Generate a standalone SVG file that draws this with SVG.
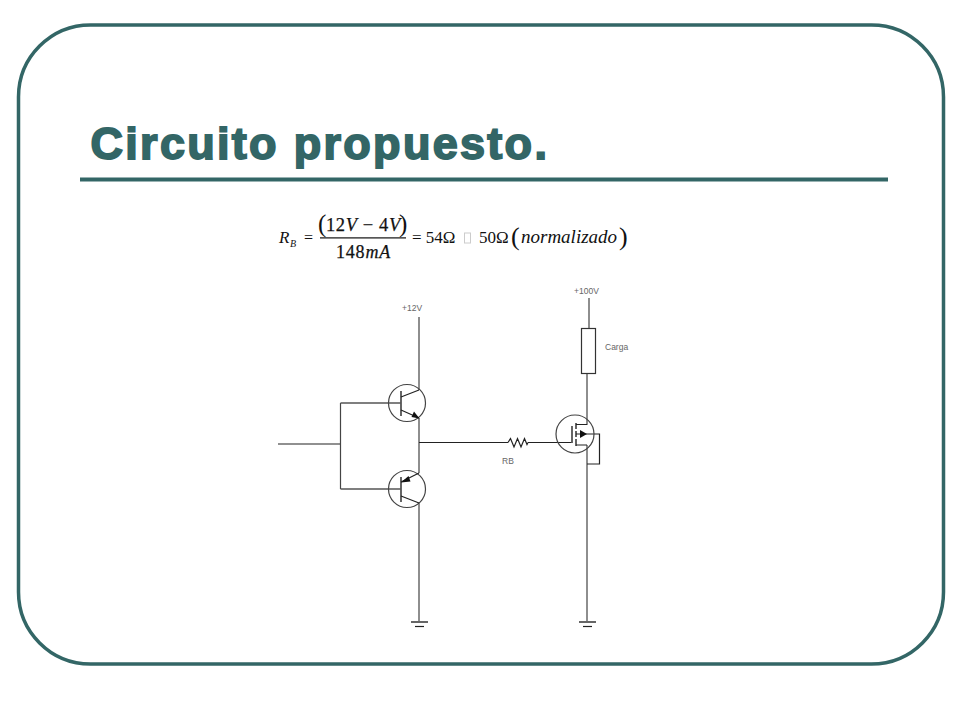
<svg xmlns="http://www.w3.org/2000/svg" width="960" height="720" viewBox="0 0 960 720">
<style>
.w{fill:none;stroke:#222;stroke-width:1.2}
.g{fill:none;stroke:#444;stroke-width:1.2}
.b{fill:none;stroke:#555;stroke-width:1.8}
.a{fill:#111;stroke:none}
.l{font-family:"Liberation Sans",Arial,sans-serif;font-size:8.500px;fill:#666}
.s{font-family:"Liberation Serif","Times New Roman",serif;fill:#111}
.i{font-style:italic}
.n{stroke:#111;stroke-width:.25}
</style>
<rect width="960" height="720" fill="#fff"/>
<g id="frame"><rect x="18.500" y="25" width="925" height="639" rx="72" ry="72" fill="#fff" stroke="#336666" stroke-width="3.500"/></g>
<g id="title">
<text x="90.500" y="159" font-family="'Liberation Sans',Arial,sans-serif" font-weight="700" font-size="45" letter-spacing="2.300" fill="#336666" stroke="#336666" stroke-width="1.800">Circuito propuesto.</text>
<rect x="80" y="177.500" width="808" height="4" fill="#336666"/>
</g>
<g id="equation">
<text class="s i" x="279" y="243" font-size="17">R</text>
<text class="s i" x="290" y="247" font-size="10">B</text>
<text class="s" x="304" y="243" font-size="16">=</text>
<text class="s" x="318" y="232" font-size="25">(</text>
<text class="s n" x="326" y="231" font-size="18.500" letter-spacing=".6">12<tspan class="i">V</tspan> − 4<tspan class="i">V</tspan></text>
<text class="s" x="399" y="232" font-size="25">)</text>
<rect x="320" y="237.300" width="86" height="1.200" fill="#111"/>
<text class="s n" x="336" y="258" font-size="18" letter-spacing=".8">148<tspan class="i">mA</tspan></text>
<text class="s" x="412" y="243" font-size="17">= 54Ω</text>
<rect x="464.500" y="233" width="6" height="10" fill="none" stroke="#ccc" stroke-width="1"/>
<text class="s" x="479" y="243" font-size="17">50Ω</text>
<text class="s" x="511" y="245" font-size="26">(</text>
<text class="s i" x="521" y="243" font-size="19">normalizado</text>
<text class="s" x="619" y="245" font-size="26">)</text>
</g>
<g id="connectors">
<path class="w" d="M278 444H340.500"/>
<path class="g" d="M340.500 403V489"/>
<path class="b" d="M340.500 403H401M340.500 489H401" style="stroke-width:1.300"/>
<path class="g" d="M419 317V390M419 418V473M419 503V621"/>
<path class="w" d="M419 442.500H508M528 442.500H572"/>
<path class="g" d="M589 298V328M587 373V425M587 445V621"/>
<path class="w" d="M593 434H599.500V464H587"/>
</g>
<g id="q1">
<circle cx="407" cy="403" r="18.500" class="g"/>
<path class="b" d="M401 391V416"/>
<path class="w" d="M401 397L419 390M401 410L419 418"/>
<path class="a" d="M419.500 418.500L411.500 417L414 411.500Z"/>
</g>
<g id="q2">
<circle cx="407" cy="489" r="18.500" class="g"/>
<path class="b" d="M401 477V502"/>
<path class="w" d="M401 482L419 473M401 496L419 503"/>
<path class="a" d="M401 482.500L408.500 476L410.500 481.500Z"/>
</g>
<g id="rb">
<path class="w" d="M508 442.500L510.500 438.500L514 447L517.500 438.500L521 447L524.500 438.500L527 444.500L528 442.500"/>
<text class="l" x="502" y="464">RB</text>
</g>
<g id="mosfet">
<circle cx="575" cy="434" r="19" class="g"/>
<path class="b" d="M572 426V443M576 423V429M576 431V437M576 439V446"/>
<path class="w" d="M576 424.500H587M576 445H587M576 434H593"/>
<path class="a" d="M587 434L580 430V438Z"/>
</g>
<g id="carga">
<rect x="581.500" y="328.500" width="14" height="45" fill="#fff" stroke="#333" stroke-width="1.200"/>
<text class="l" x="605" y="350">Carga</text>
</g>
<g id="v12"><text class="l" x="402" y="311">+12V</text></g>
<g id="v100"><text class="l" x="574" y="294">+100V</text></g>
<g id="gnd1"><path class="b" d="M411 622H428"/><path class="w" d="M415 626.500H424"/></g>
<g id="gnd2"><path class="b" d="M579 622H596"/><path class="w" d="M583 626.500H592"/></g>
</svg>
